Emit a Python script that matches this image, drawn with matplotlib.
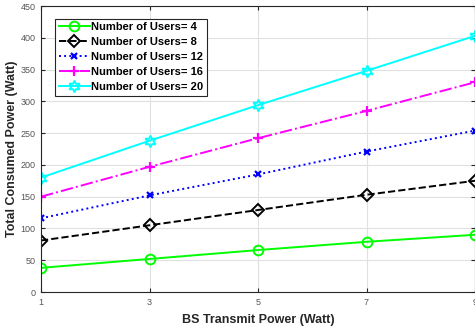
import matplotlib
matplotlib.use('Agg')
import matplotlib.pyplot as plt

plt.rcParams['font.family'] = ['Liberation Sans', 'DejaVu Sans']

# data
bs_power = [1, 3, 5, 7, 9]
users_4 = [38, 52, 66, 79, 90]
users_8 = [81, 105, 129, 153, 175]
users_12 = [116, 152, 185, 221, 254]
users_16 = [150, 197, 242, 285, 330]
users_20 = [180, 238, 294, 348, 403]

fig = plt.figure(figsize=(4.75, 3.28), dpi=100)
ax = fig.add_axes([41/475, 36/328, 434/475, 286/328])

ax.plot(bs_power, users_4, color='#00ff00', ls='-', lw=1.4, marker='o',
        ms=7, mfc='none', mew=1.4, label='Number of Users= 4')
ax.plot(bs_power, users_8, color='black', ls='--', lw=1.4, marker='D',
        ms=6, mfc='none', mew=1.4, label='Number of Users= 8')
ax.plot(bs_power, users_12, color='blue', ls=':', lw=1.4, marker='x',
        ms=5, mew=1.6, label='Number of Users= 12')
ax.plot(bs_power, users_16, color='magenta', ls='-.', lw=1.4, marker='+',
        ms=7, mew=1.6, label='Number of Users= 16')
ax.plot(bs_power, users_20, color='cyan', ls='-', lw=1.4, marker=(6, 1, 0),
        ms=8.5, mfc='none', mew=1.4, label='Number of Users= 20')

ax.set_xlim(1, 9)
ax.set_ylim(0, 450)
ax.set_xticks([1, 3, 5, 7, 9])
ax.set_yticks(range(0, 451, 50))
ax.grid(True, color='#e0e0e0', lw=0.8)
ax.set_axisbelow(True)
ax.tick_params(direction='in', top=True, right=True, labelsize=6.5,
               colors='#262626', labelcolor='#555555', length=3, pad=4)
for s in ax.spines.values():
    s.set_color('#262626')
    s.set_linewidth(0.8)

ax.set_xlabel('BS Transmit Power (Watt)', fontsize=9, fontweight='bold',
              color='#262626', labelpad=5)
ax.set_ylabel('Total Consumed Power (Watt)', fontsize=9, fontweight='bold',
              color='#262626', labelpad=2)

leg = ax.legend(loc='upper left', bbox_to_anchor=(0.033, 0.955), fancybox=False,
                edgecolor='#262626', framealpha=1, handlelength=2.8,
                handletextpad=0.15, labelspacing=0.45, borderpad=0.3,
                borderaxespad=0, prop={'weight': 'bold', 'size': 8})
leg.get_frame().set_linewidth(0.8)

fig.savefig('out.png', dpi=100)
